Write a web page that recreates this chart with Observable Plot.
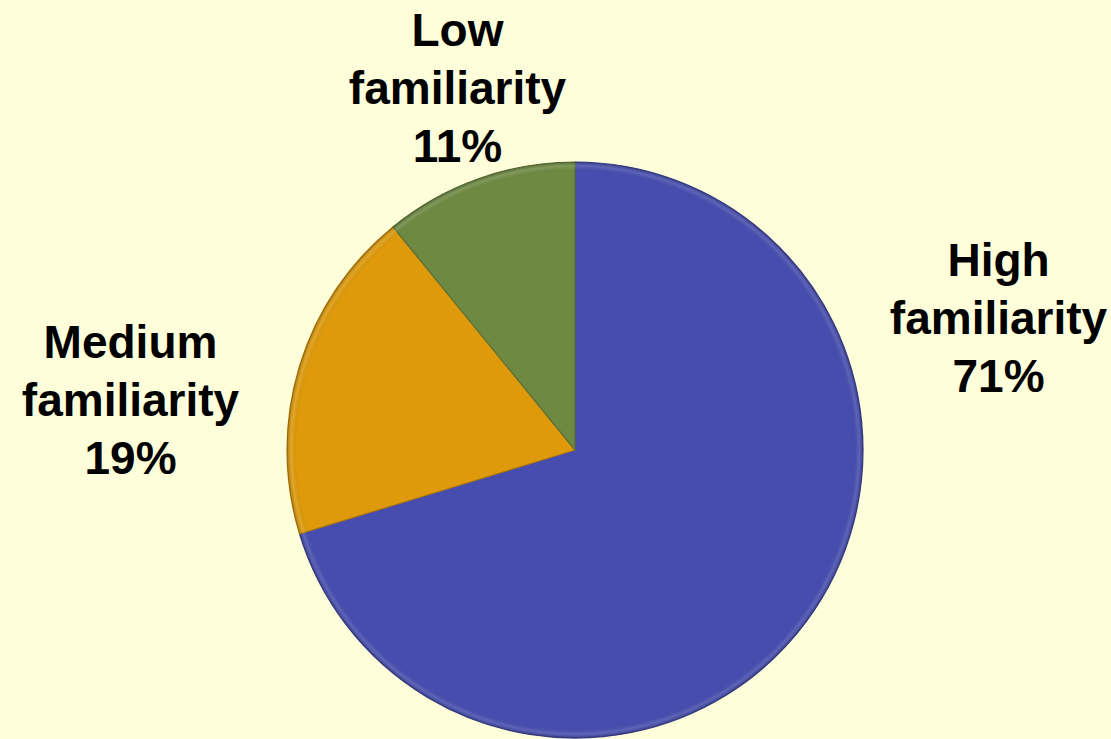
<!DOCTYPE html>
<html>
<head>
<meta charset="utf-8">
<script src="https://cdn.jsdelivr.net/npm/d3@7"></script>
<script src="https://cdn.jsdelivr.net/npm/@observablehq/plot@0.6"></script>
<style>
  html, body { margin: 0; padding: 0; background: #FEFEDA; }
  #chart { width: 1111px; height: 739px; overflow: hidden; }
</style>
</head>
<body>
<div id="chart"></div>
<script>
// Data
const categories = ["High familiarity", "Medium familiarity", "Low familiarity"];
const values = [71, 19, 11];
const colors = ["#464DAF", "#DE9A0A", "#6E8A42"];

const W = 1111, H = 739;
const cx = 575, cy = 450, R = 288;
// label anchors (layout)
const labelPos = [[998, 315], [130, 397], [457, 85]];

const table = categories.map((c, i) => ({category: c, value: values[i]}));
const arcs = d3.pie().sort(null).value(d => d.value)(table);

const labels = table.map((d, i) => ({
  text: d.category.replace(" ", "\n") + "\n" + d.value + "%",
  lx: labelPos[i][0], ly: labelPos[i][1]
}));

const pieMark = (index, scales, values, dims) => {
  const g = d3.create("svg:g");
  const x0 = scales.x(cx), y0 = scales.y(cy);
  const r = scales.x(cx + R) - x0;
  const defs = g.append("defs");
  const rg = defs.append("radialGradient").attr("id", "rim")
    .attr("gradientUnits", "userSpaceOnUse")
    .attr("cx", x0).attr("cy", y0).attr("r", r);
  rg.append("stop").attr("offset", "0.965").attr("stop-color", "#000").attr("stop-opacity", 0);
  rg.append("stop").attr("offset", "0.985").attr("stop-color", "#fff").attr("stop-opacity", 0.12);
  rg.append("stop").attr("offset", "1").attr("stop-color", "#000").attr("stop-opacity", 0.25);
  const arc = d3.arc().innerRadius(0).outerRadius(r);
  const sg = g.append("g").attr("transform", `translate(${x0},${y0})`);
  sg.selectAll("path.slice").data(arcs).join("path")
    .attr("class", "slice")
    .attr("d", arc)
    .attr("fill", (d, i) => colors[i])
    .attr("stroke", (d, i) => d3.color(colors[i]).darker(0.6))
    .attr("stroke-width", 1.2)
    .attr("stroke-linejoin", "round");
  sg.append("circle").attr("r", r).attr("fill", "url(#rim)").attr("transform", `translate(${-x0},${-y0})`)
    .attr("cx", x0).attr("cy", y0);
  return g.node();
};

const chart = Plot.plot({
  width: W,
  height: H,
  margin: 0,
  style: {background: "#FEFEDA", overflow: "visible"},
  x: {domain: [0, W], range: [0, W], axis: null},
  y: {domain: [0, H], range: [0, H], axis: null},
  marks: [
    pieMark,
    Plot.text(labels, {
      x: "lx", y: "ly", text: "text",
      fontSize: 46, fontWeight: "bold", lineHeight: 1.26,
      fontFamily: "'Liberation Sans', Arial, sans-serif",
      fill: "#000", textAnchor: "middle"
    })
  ]
});
document.getElementById("chart").appendChild(chart);
</script>
</body>
</html>
